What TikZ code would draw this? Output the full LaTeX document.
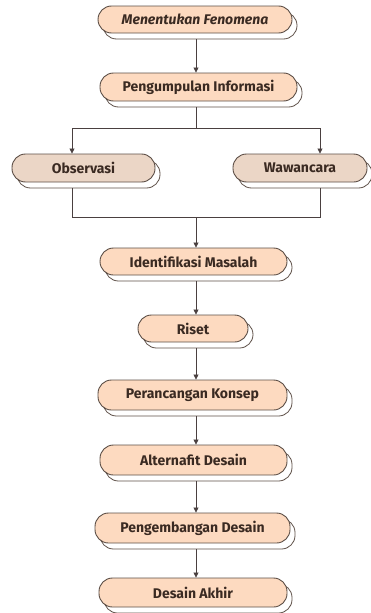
\documentclass[tikz,border=0pt]{standalone}
\usepackage{fontspec}
\setmainfont{Fira Sans}
\usetikzlibrary{shadows,arrows.meta}
\definecolor{peach}{HTML}{FDDAC0}
\definecolor{greypeach}{HTML}{EBD6C6}
\definecolor{edgecol}{HTML}{5E5048}
\definecolor{txtcol}{HTML}{3A2A22}
\definecolor{linecol}{HTML}{4A4040}
\tikzset{
  flowbox/.style={draw=edgecol, line width=0.9pt, fill=peach, rounded corners=13.5pt,
    minimum height=28pt, inner sep=0pt, text=txtcol,
    font=\fontsize{14}{16}\selectfont\bfseries,
    copy shadow={shadow xshift=5pt, shadow yshift=-6pt, fill=white, draw=edgecol, line width=0.8pt}},
  greybox/.style={flowbox, fill=greypeach},
  arr/.style={draw=linecol, line width=0.8pt, -{Triangle[width=5pt,length=5pt]}},
  ln/.style={draw=linecol, line width=0.8pt}
}
\begin{document}
\begin{tikzpicture}[x=1pt,y=-1pt]
\useasboundingbox (0,0) rectangle (371,613);
\node[flowbox, minimum width=194pt, minimum height=27pt, font=\fontsize{14}{16}\selectfont\bfseries\itshape] (n1) at (195,19.5) {Menentukan Fenomena};
\node[flowbox, minimum width=197pt] (n2) at (198.5,87) {Pengumpulan Informasi};
\node[greybox, minimum width=143pt] (obs) at (83.5,168) {Observasi};
\node[greybox, minimum width=134pt] (waw) at (300,168) {Wawancara};
\node[flowbox, minimum width=187pt, minimum height=27pt] (n3) at (193.5,261.5) {Identifikasi Masalah};
\node[flowbox, minimum width=110pt, minimum height=27pt] (n4) at (193,328.5) {Riset};
\node[flowbox, minimum width=189pt, minimum height=30pt] (n5) at (192.5,395) {Perancangan Konsep};
\node[flowbox, minimum width=187pt, minimum height=30pt] (n6) at (193.5,460) {Alternafit Desain};
\node[flowbox, minimum width=195pt, minimum height=30pt] (n7) at (192.5,528) {Pengembangan Desain};
\node[flowbox, minimum width=188pt, minimum height=29pt] (n8) at (193,592.5) {Desain Akhir};
% guide coordinates
\coordinate (ax) at (196,0);
\coordinate (lx) at (72,0);
\coordinate (rx) at (320,0);
\coordinate (topbar) at (196,128);
\coordinate (botbar) at (196,217);
% connectors
\draw[arr] ([yshift=-6pt]n1.south -| ax) -- (n2.north -| ax);
\draw[ln] ([yshift=-6pt]n2.south -| ax) -- (topbar);
\draw[ln] (topbar -| lx) -- (topbar -| rx);
\draw[arr] (topbar -| lx) -- (obs.north -| lx);
\draw[arr] (topbar -| rx) -- (waw.north -| rx);
\draw[ln] ([yshift=-6pt]obs.south -| lx) -- (botbar -| lx) -- (botbar -| rx) -- ([yshift=-6pt]waw.south -| rx);
\draw[arr] (botbar) -- (n3.north -| ax);
\draw[arr] ([yshift=-6pt]n3.south -| ax) -- (n4.north -| ax);
\draw[arr] ([yshift=-6pt]n4.south -| ax) -- (n5.north -| ax);
\draw[arr] ([yshift=-6pt]n5.south -| ax) -- (n6.north -| ax);
\draw[arr] ([yshift=-6pt]n6.south -| ax) -- (n7.north -| ax);
\draw[arr] ([yshift=-6pt]n7.south -| ax) -- (n8.north -| ax);
\end{tikzpicture}
\end{document}
